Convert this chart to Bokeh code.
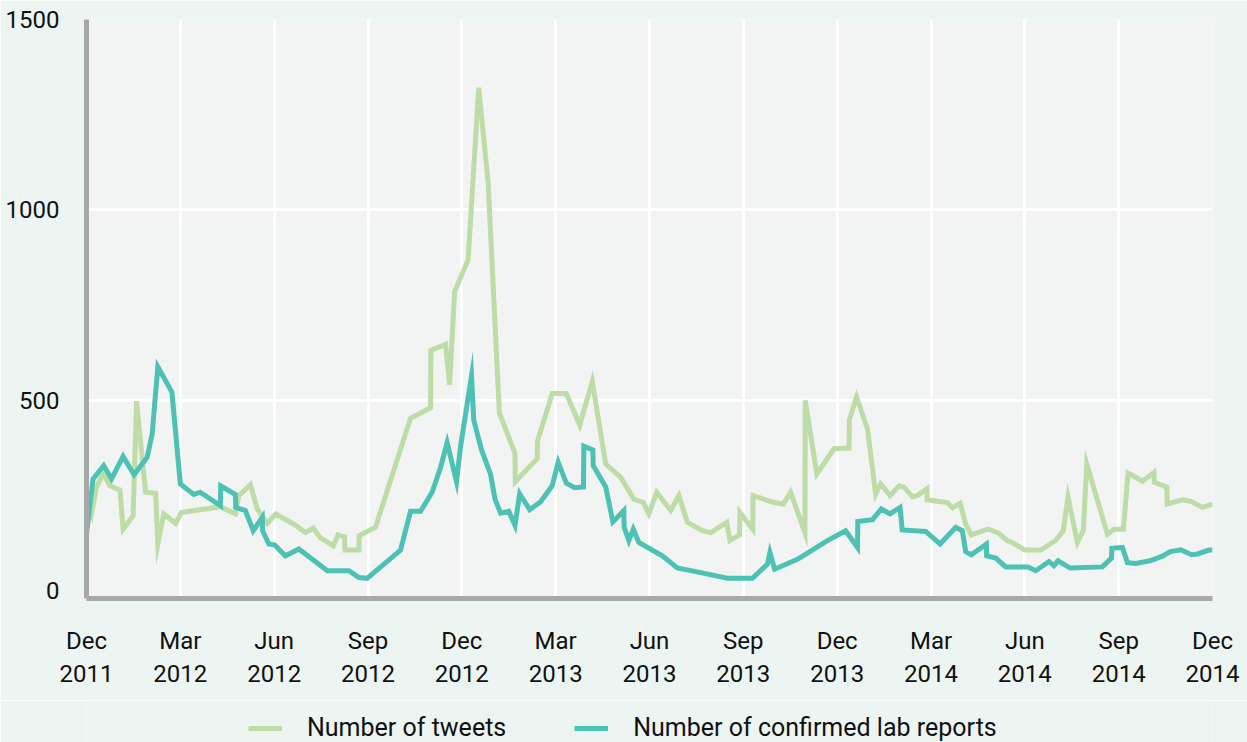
from bokeh.plotting import figure
from bokeh.layouts import column
from bokeh.models import Range1d, FixedTicker, Legend, LegendItem
from bokeh.embed import file_html
from bokeh.resources import INLINE

# Months since Dec 2011 (0 = Dec 2011, 36 = Dec 2014)
tweet_month = [0.0, 0.17, 0.32, 0.53, 0.75, 1.07, 1.17, 1.49, 1.6, 1.89, 2.21, 2.28, 2.47, 2.85, 3.03,
               4.28, 4.76, 4.87, 5.24, 5.46, 5.78, 6.05, 6.63, 7.0, 7.25, 7.48, 7.89, 8.04, 8.25, 8.26,
               8.71, 8.72, 9.24, 10.36, 11.0, 11.01, 11.48, 11.61, 11.77, 12.2, 12.54, 12.84, 13.2,
               13.7, 13.71, 14.41, 14.42, 14.89, 15.34, 15.77, 16.17, 16.6, 17.08, 17.5, 17.8, 17.98,
               18.23, 18.68, 18.94, 19.21, 19.69, 19.96, 20.47, 20.57, 20.88, 20.89, 21.3, 21.31,
               21.98, 22.28, 22.51, 22.97, 22.98, 23.35, 23.9, 24.38, 24.39, 24.62, 24.97, 25.23,
               25.39, 25.69, 25.98, 26.14, 26.41, 26.56, 26.87, 26.88, 27.52, 27.69, 27.93, 28.11,
               28.29, 28.82, 29.14, 29.42, 29.6, 29.99, 30.51, 30.99, 31.23, 31.38, 31.68, 31.87,
               31.98, 32.64, 32.85, 33.15, 33.3, 33.76, 34.13, 34.14, 34.54, 34.55, 35.04, 35.31,
               35.68, 36.0]
tweets = [260, 206, 272, 309, 276, 265, 162, 197, 498, 259, 256, 123, 202, 177, 206,
          221, 202, 250, 279, 215, 177, 202, 175, 153, 165, 139, 118, 147, 142, 107,
          107, 145, 167, 453, 481, 631, 647, 541, 786, 869, 1321, 1072, 467,
          361, 287, 347, 393, 518, 518, 435, 550, 333, 298, 241, 232, 202,
          259, 211, 250, 180, 158, 153, 180, 132, 147, 206, 162, 250,
          232, 228, 259, 153, 500, 307, 373, 375, 449, 509, 425, 254,
          281, 250, 276, 272, 247, 250, 268, 239, 232, 218, 230, 175,
          147, 162, 153, 133, 127, 107, 107, 133, 158, 246, 127, 158,
          333, 149, 162, 162, 309, 288, 311, 285, 272, 228, 239, 235,
          219, 228]

lab_month = [0.0, 0.21, 0.55, 0.8, 1.17, 1.52, 1.94, 2.1, 2.28, 2.73, 3.0, 3.43, 3.63, 4.28, 4.29,
             4.76, 4.77, 5.08, 5.33, 5.62, 5.63, 5.83, 6.01, 6.36, 6.79, 7.7, 8.39, 8.71, 8.97,
             10.04, 10.36, 10.68, 11.05, 11.32, 11.53, 11.83, 11.96, 12.31, 12.38, 12.63, 12.92,
             13.06, 13.24, 13.5, 13.7, 13.85, 14.17, 14.52, 14.89, 15.08, 15.34, 15.6, 15.89,
             15.9, 16.19, 16.2, 16.6, 16.83, 17.18, 17.19, 17.34, 17.48, 17.66, 18.41, 18.89,
             19.64, 20.49, 21.29, 21.77, 21.85, 22.0, 22.73, 23.69, 24.27, 24.65, 24.66, 25.13,
             25.41, 25.69, 26.01, 26.08, 26.83, 27.29, 27.79, 28.0, 28.11, 28.29, 28.77, 28.78,
             29.07, 29.39, 30.1, 30.35, 30.77, 30.93, 31.06, 31.45, 32.48, 32.77, 32.78, 33.12,
             33.28, 33.55, 34.0, 34.4, 34.65, 34.99, 35.33, 35.52, 35.89, 36.0]
lab_reports = [150, 294, 329, 294, 353, 305, 351, 412, 588, 522, 281, 253, 259, 224, 276,
               253, 219, 211, 158, 193, 158, 123, 121, 92, 110, 53, 53, 35, 33,
               107, 209, 209, 259, 324, 389, 287, 380, 564, 449, 370, 306,
               241, 204, 209, 172, 255, 213, 234, 276, 338, 283, 271, 273,
               380, 370, 329, 273, 181, 211, 167, 132, 162, 127, 92, 60,
               48, 33, 33, 70, 101, 57, 83, 132, 158, 114, 182, 187,
               215, 202, 219, 160, 156, 123, 167, 158, 103, 95, 123, 92,
               86, 63, 63, 53, 77, 66, 79, 60, 63, 86, 112, 114,
               74, 72, 79, 91, 103, 108, 95, 97, 107, 107]

tick_months = [0, 3, 6, 9, 12, 15, 18, 21, 24, 27, 30, 33, 36]
tick_labels = ["Dec\n2011", "Mar\n2012", "Jun\n2012", "Sep\n2012", "Dec\n2012", "Mar\n2013",
               "Jun\n2013", "Sep\n2013", "Dec\n2013", "Mar\n2014", "Jun\n2014", "Sep\n2014",
               "Dec\n2014"]
y_ticks = [0, 500, 1000, 1500]

series_names = ["Number of tweets", "Number of confirmed lab reports"]

FONT = "Roboto"
GREEN = "#bedca8"
TEAL = "#4cc1b4"
BG = "#edf5f2"

p = figure(width=1247, height=700, output_backend="svg", toolbar_location=None,
           x_range=Range1d(0, 36), y_range=Range1d(-20, 1500),
           min_border_left=86, min_border_right=35, min_border_top=19, min_border_bottom=102)
p.border_fill_color = BG
p.background_fill_color = "#f2f4f3"
p.outline_line_color = None

for ax in (p.xaxis[0], p.yaxis[0]):
    ax.axis_line_color = "#a8a8ac"
    ax.axis_line_width = 5
    ax.major_tick_line_color = None
    ax.minor_tick_line_color = None
    ax.major_label_text_font = FONT
    ax.major_label_text_font_size = "24px"
    ax.major_label_text_color = "#111111"

p.xaxis.ticker = FixedTicker(ticks=tick_months)
p.xaxis.major_label_overrides = {m: lab for m, lab in zip(tick_months, tick_labels)}
p.xaxis.major_label_standoff = 22
p.yaxis.ticker = FixedTicker(ticks=y_ticks)
p.yaxis.major_label_standoff = 21

p.xgrid.ticker = FixedTicker(ticks=tick_months[1:-1])
p.ygrid.ticker = FixedTicker(ticks=y_ticks[1:])
p.xgrid.grid_line_color = "white"
p.ygrid.grid_line_color = "white"
p.xgrid.grid_line_width = 3
p.ygrid.grid_line_width = 3

p.line(tweet_month, tweets, line_color=GREEN, line_width=5, line_join="miter")
p.line(lab_month, lab_reports, line_color=TEAL, line_width=5, line_join="miter")

# Legend strip below the chart: the same series, drawn out of view (the strip's
# y range lies below every value), so that only their legend keys show.
lg = figure(width=1247, height=42, output_backend="svg", toolbar_location=None,
            x_range=Range1d(0, 36), y_range=Range1d(-2, -1),
            min_border_left=0, min_border_right=0, min_border_top=0, min_border_bottom=0)
lg.axis.visible = False
lg.grid.visible = False
lg.outline_line_color = None
lg.border_fill_color = BG
lg.background_fill_color = BG
k1 = lg.line(tweet_month, tweets, line_color=GREEN, line_width=5)
k2 = lg.line(lab_month, lab_reports, line_color=TEAL, line_width=5)

legend = Legend(items=[LegendItem(label=series_names[0], renderers=[k1]),
                       LegendItem(label=series_names[1], renderers=[k2])],
                orientation="horizontal", location=(162, 0),
                padding=0, margin=0, spacing=68, glyph_width=34, glyph_height=20,
                label_standoff=25, border_line_color=None, background_fill_alpha=0,
                label_text_font=FONT, label_text_font_size="25px", label_text_color="#111111")
lg.add_layout(legend)

layout = column(p, lg, spacing=0)
open("out.html", "w").write(file_html(layout, INLINE))
